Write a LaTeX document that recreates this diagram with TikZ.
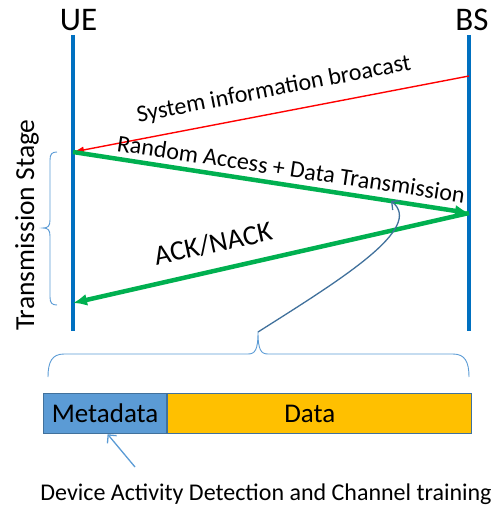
\documentclass[tikz,border=0pt]{standalone}
\usepackage{fontspec}
\setmainfont{Carlito}
\usetikzlibrary{arrows.meta,positioning,calc}

\definecolor{lifeblue}{HTML}{0070C0}
\definecolor{msggreen}{HTML}{00B050}
\definecolor{msgred}{HTML}{FF0000}
\definecolor{bracecol}{HTML}{5B9BD5}
\definecolor{curvecol}{HTML}{41719C}
\definecolor{metafill}{HTML}{5B9BD5}
\definecolor{datafill}{HTML}{FFC000}

\newcommand{\fsz}[1]{\fontsize{#1}{#1}\selectfont}

\begin{document}
\begin{tikzpicture}[x=1pt,y=-1pt,
    lifeline/.style={lifeblue, line width=4pt},
    sysmsg/.style={msgred, line width=1.4pt, -{Latex[length=11pt,width=7pt]}},
    bigmsg/.style={msggreen, line width=4.5pt, -{Latex[length=14pt,width=12pt]}},
    msglabel/.style={anchor=base, inner sep=0pt},
    slot/.style={draw=curvecol, line width=1.2pt, minimum height=40pt, inner sep=0pt, anchor=north west}]
\useasboundingbox (0,0) rectangle (498,508);

% the two parties and their lifelines
\node (ue) at (78.5,20) {\fsz{33}UE};
\node (bs) at (472,20) {\fsz{33}BS};
\coordinate (ue-top) at (73,35);
\coordinate (ue-bot) at (73,331);
\coordinate (bs-top) at (469,35);
\coordinate (bs-bot) at (469,331);
\draw[lifeline] (ue-top) -- (ue-bot);
\draw[lifeline] (bs-top) -- (bs-bot);

% points where the messages meet the lifelines
\coordinate (bs-sys) at (469,76);
\coordinate (ue-ra) at (73,152);
\coordinate (bs-ra) at (469,213);
\coordinate (ue-ack) at (73,303);

\draw[sysmsg] (bs-sys) -- (ue-ra);
\draw[bigmsg] (ue-ra) -- (bs-ra);
\draw[bigmsg] (bs-ra) -- (ue-ack);

\node[msglabel, rotate=10.9] (sysinfo) at (275,96) {\fsz{24}System information broacast};
\node[msglabel, rotate=-8.5] (ralabel) at (290,177) {\fsz{24}Random Access + Data Transmission};
\node[msglabel, rotate=12.2] (acklabel) at (215,252.5) {\fsz{28}ACK/NACK};

% stage brace on the left
\draw[bracecol, line width=0.9pt] (57,152) .. controls (52,152) and (50,154) .. (50,160) -- (50,220)
    .. controls (50,226) and (48,228) .. (43,228) .. controls (48,228) and (50,230) .. (50,236)
    -- (50,297) .. controls (50,303) and (52,305) .. (57,305);
\node[msglabel, rotate=90] (stage) at (34,225) {\fsz{27.5}Transmission Stage};

% brace under the lifelines
\coordinate (brace-tip) at (258,332);
\draw[bracecol, line width=0.9pt] (48,377) .. controls (48,362) and (52,354) .. (64,354) -- (248,354)
    .. controls (255,354) and (258,350) .. (brace-tip) .. controls (258,350) and (261,354) .. (268,354)
    -- (453,354) .. controls (465,354) and (469,362) .. (469,377);
\draw[curvecol, line width=1.3pt, -{Straight Barb[length=6pt,width=12pt]}] (brace-tip)
    .. controls (340,280) and (425,228) .. (391,201);

% the slot
\node[slot, fill=metafill, minimum width=123pt] (meta) at (43,393) {\fsz{27}Metadata};
\node[slot, fill=datafill, minimum width=304pt, right=0pt of meta] (data) {\fsz{27}Data\kern20pt};

\node[msglabel] (dadct) at (266,500) {\fsz{24}Device Activity Detection and Channel training};
\coordinate (hint-start) at (135,467);
\draw[bracecol, line width=1.3pt, -{Straight Barb[length=6pt,width=12pt]}] (hint-start) -- ([xshift=2.5pt]meta.south);
\end{tikzpicture}
\end{document}
